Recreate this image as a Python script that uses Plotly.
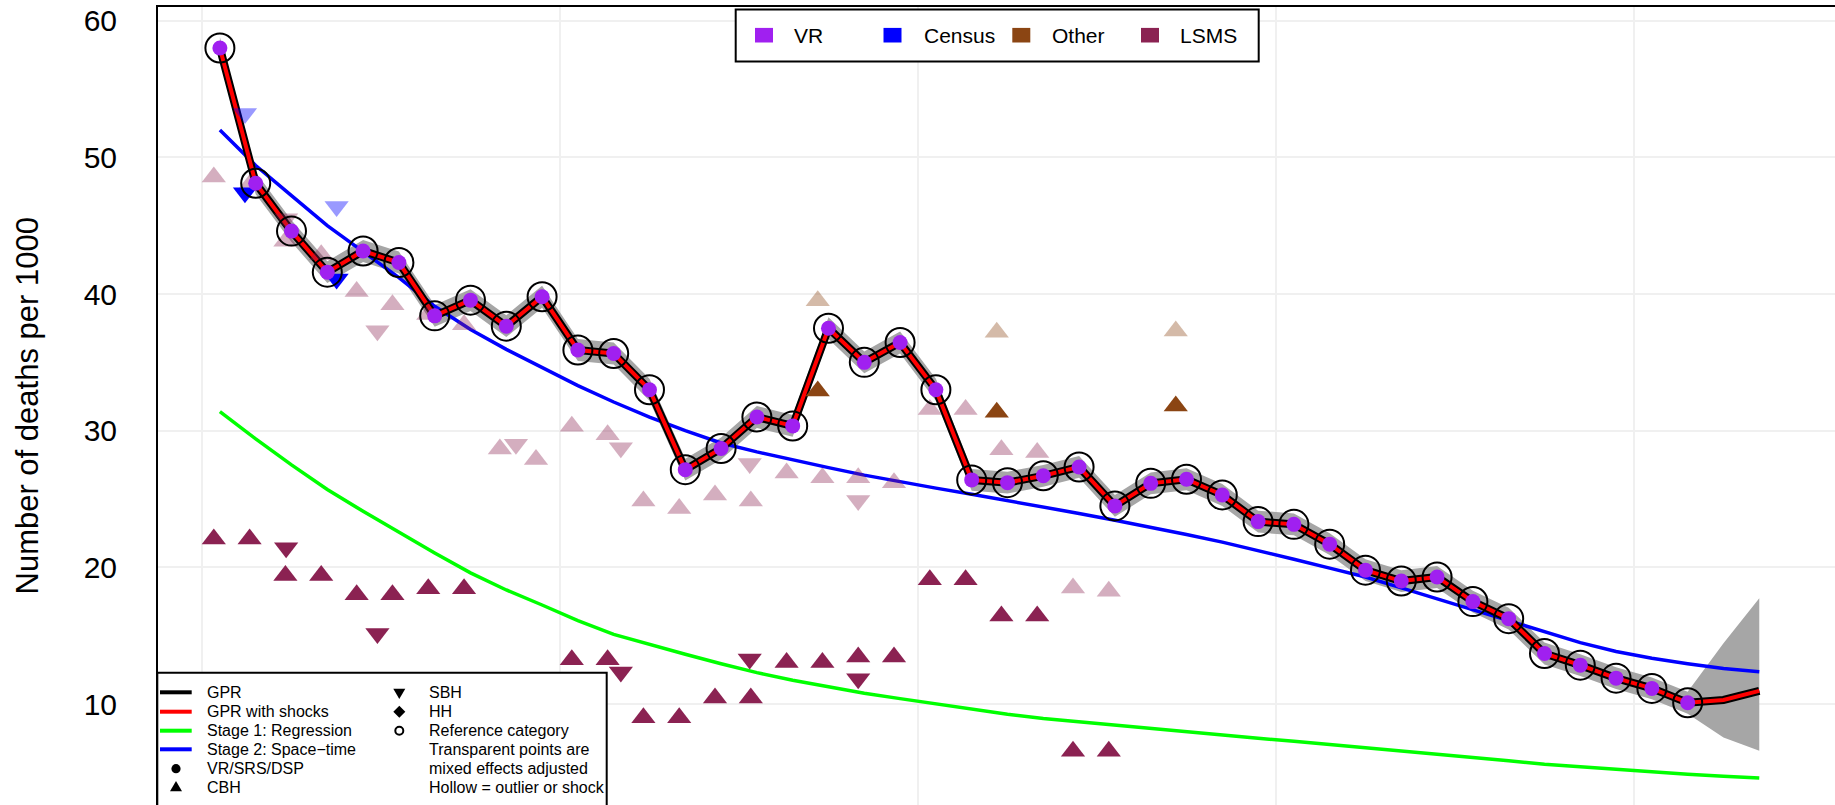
import plotly.graph_objects as go

# ---------------- data ----------------
years_vr = [y + 0.5 for y in range(1970, 2012)]
vr_values = [58.0, 48.1, 44.6, 41.6, 43.15, 42.3, 38.4, 39.55, 37.65, 39.8,
             35.9, 35.65, 33.0, 27.15, 28.7, 31.0, 30.35, 37.5, 35.0, 36.45,
             33.0, 26.4, 26.2, 26.7, 27.35, 24.5, 26.15, 26.45, 25.3, 23.35,
             23.15, 21.7, 19.8, 19.0, 19.3, 17.5, 16.25, 13.7, 12.85, 11.9,
             11.15, 10.1]

years_est = [y + 0.5 for y in range(1970, 2014)]
gpr_values = [58.0, 48.1, 44.6, 41.6, 43.15, 42.3, 38.4, 39.55, 37.65, 39.8,
              35.9, 35.65, 33.0, 27.15, 28.7, 31.0, 30.35, 37.5, 35.0, 36.45,
              33.0, 26.4, 26.2, 26.7, 27.35, 24.5, 26.15, 26.45, 25.3, 23.35,
              23.15, 21.7, 19.8, 19.0, 19.3, 17.5, 16.25, 13.7, 12.85, 11.9,
              11.15, 10.1, 10.3, 10.97]
gpr_lower = [57.2, 47.3, 43.8, 40.8, 42.35, 41.5, 37.6, 38.75, 36.85, 39.0,
             35.1, 34.85, 32.2, 26.35, 27.9, 30.2, 29.55, 36.7, 34.2, 35.65,
             32.2, 25.6, 25.4, 25.9, 26.55, 23.7, 25.35, 25.65, 24.5, 22.55,
             22.35, 20.9, 19.0, 18.2, 18.5, 16.7, 15.45, 12.9, 12.05, 11.1,
             10.35, 9.3, 7.56, 6.58]
gpr_upper = [58.8, 48.9, 45.4, 42.4, 43.95, 43.1, 39.2, 40.35, 38.45, 40.6,
             36.7, 36.45, 33.8, 27.95, 29.5, 31.8, 31.15, 38.3, 35.8, 37.25,
             33.8, 27.2, 27.0, 27.5, 28.15, 25.3, 26.95, 27.25, 26.1, 24.15,
             23.95, 22.5, 20.6, 19.8, 20.1, 18.3, 17.05, 14.5, 13.65, 12.7,
             11.95, 10.9, 14.45, 17.74]
stage1_values = [31.4, 29.4, 27.5, 25.7, 24.1, 22.55, 21.05, 19.6, 18.35, 17.25,
                 16.1, 15.1, 14.35, 13.65, 12.95, 12.3, 11.75, 11.25, 10.8, 10.4,
                 10.0, 9.6, 9.25, 8.95, 8.7, 8.47, 8.22, 7.96, 7.72, 7.5,
                 7.28, 7.05, 6.8, 6.58, 6.35, 6.12, 5.85, 5.6, 5.4, 5.2,
                 5.02, 4.86, 4.72, 4.6]
stage2_values = [52.0, 49.4, 47.2, 45.0, 43.1, 41.2, 39.1, 37.4, 35.95, 34.6,
                 33.3, 32.1, 31.0, 30.0, 29.1, 28.45, 27.85, 27.3, 26.75, 26.25,
                 25.8, 25.35, 24.9, 24.45, 23.95, 23.45, 22.95, 22.4, 21.85, 21.25,
                 20.6, 19.95, 19.3, 18.5, 17.7, 16.9, 16.1, 15.3, 14.5, 13.85,
                 13.35, 12.95, 12.6, 12.37]

# LSMS, complete birth history (solid, up triangles)
lsms_cbh_years = [1970.33, 1971.33, 1972.33, 1973.33, 1974.32, 1975.32, 1976.32, 1977.32,
                  1980.33, 1981.33, 1982.33, 1983.33, 1984.33, 1985.33, 1986.33, 1987.33,
                  1988.33, 1989.33, 1990.33, 1991.33, 1992.33, 1993.33, 1994.33, 1995.33]
lsms_cbh_values = [22.08, 22.08, 19.4, 19.4, 18.0, 18.0, 18.43, 18.43,
                   13.24, 13.24, 9.0, 9.0, 10.45, 10.45, 13.05, 13.05,
                   13.45, 13.45, 19.1, 19.1, 16.45, 16.45, 6.56, 6.56]
# LSMS, complete birth history, mixed effects adjusted (transparent)
lsms_cbh_adj_years = [1970.33, 1971.33, 1972.33, 1973.33, 1974.32, 1975.32, 1976.32, 1977.32,
                      1978.32, 1979.33, 1980.33, 1981.33, 1982.33, 1983.33, 1984.33, 1985.33,
                      1986.33, 1987.33, 1988.33, 1989.33, 1990.33, 1991.33, 1992.33, 1993.33,
                      1994.33, 1995.33]
lsms_cbh_adj_values = [48.56, 48.0, 43.86, 42.88, 40.18, 39.22, 38.5, 37.75,
                       28.67, 27.89, 30.33, 29.7, 24.85, 24.3, 25.3, 24.85,
                       26.9, 26.55, 26.55, 26.2, 31.55, 31.55, 28.6, 28.4,
                       18.5, 18.25]
# LSMS, summary birth history (solid, down triangles)
lsms_sbh_years = [1972.35, 1974.9, 1981.7, 1985.3, 1988.33]
lsms_sbh_values = [21.44, 15.17, 12.35, 13.3, 11.85]
lsms_sbh_adj_years = [1972.35, 1974.9, 1978.77, 1981.7, 1985.3, 1988.33]
lsms_sbh_adj_values = [45.5, 37.32, 29.0, 28.75, 27.6, 24.9]
lsms_sbh_out_years = [1990.46]
lsms_sbh_out_values = [20.1]

# Census, summary birth history
census_sbh_years = [1971.2, 1973.76]
census_sbh_values = [47.4, 41.1]
census_sbh_adj_years = [1971.2, 1973.76]
census_sbh_adj_values = [53.2, 46.4]
census_sbh_out_years = [1975.55]
census_sbh_out_values = [49.66]

# Other, complete birth history
other_cbh_years = [1987.2, 1992.2, 1997.2]
other_cbh_values = [32.9, 31.35, 31.8]
other_cbh_adj_years = [1987.2, 1992.2, 1997.2]
other_cbh_adj_values = [39.5, 37.2, 37.3]

y_ticks = [10, 20, 30, 40, 50, 60]
x_grid = [1970, 1980, 1990, 2000, 2010]
y_title = "Number of deaths per 1000"
source_legend = [("VR", "#A020F0"), ("Census", "#0000FF"), ("Other", "#8B4513"), ("LSMS", "#8B2252")]
line_legend = [("GPR", "#000000"), ("GPR with shocks", "#FF0000"),
               ("Stage 1: Regression", "#00FF00"), ("Stage 2: Space\u2212time", "#0000FF")]
type_legend_col1 = ["VR/SRS/DSP", "CBH"]
type_legend_col2 = ["SBH", "HH", "Reference category", "Transparent points are",
                    "mixed effects adjusted", "Hollow = outlier or shock"]

# ---------------- styling ----------------
VR_C = "#A020F0"
CEN_C = "#0000FF"
OTH_C = "#8B4513"
LSMS_C = "#8B2252"
LSMS_T = "rgba(139,34,82,0.37)"
CEN_T = "rgba(0,0,255,0.40)"
OTH_T = "rgba(139,69,19,0.37)"
FONT = "Liberation Sans, Arial, Helvetica, sans-serif"
TRI = 21

W, H = 1835, 805
ML, MR, MT, MB = 158, 0, 7, 0
X0, X1 = 1968.771, 2015.615
Y0, Y1 = 2.619, 60.995


def px_x(px):
    return (px - ML) / (W - ML - MR)


def px_y(py):
    return 1 - (py - MT) / (H - MT - MB)


fig = go.Figure()

# uncertainty band
fig.add_trace(go.Scatter(x=years_est + years_est[::-1], y=gpr_upper + gpr_lower[::-1],
                         fill="toself", fillcolor="rgb(166,166,166)", line=dict(width=0),
                         mode="lines", hoverinfo="skip"))
fig.add_trace(go.Scatter(x=years_est, y=stage1_values, mode="lines",
                         line=dict(color="#00FF00", width=3.5)))
fig.add_trace(go.Scatter(x=years_est, y=stage2_values, mode="lines",
                         line=dict(color="#0000FF", width=3.5)))
fig.add_trace(go.Scatter(x=years_est, y=gpr_values, mode="lines",
                         line=dict(color="#000000", width=8)))
fig.add_trace(go.Scatter(x=years_est, y=gpr_values, mode="lines",
                         line=dict(color="#FF0000", width=4)))


def pts(x, y, symbol, color, open_=False):
    if open_:
        m = dict(symbol=symbol, size=TRI, color="rgba(0,0,0,0)", line=dict(color=color, width=2))
    else:
        m = dict(symbol=symbol, size=TRI, color=color, line=dict(width=0))
    fig.add_trace(go.Scatter(x=x, y=y, mode="markers", marker=m))


# transparent (adjusted) points
pts(lsms_cbh_adj_years, lsms_cbh_adj_values, "triangle-up", LSMS_T)
pts(lsms_sbh_adj_years, lsms_sbh_adj_values, "triangle-down", LSMS_T)
pts(census_sbh_adj_years, census_sbh_adj_values, "triangle-down", CEN_T)
pts(other_cbh_adj_years, other_cbh_adj_values, "triangle-up", OTH_T)
# solid points
pts(lsms_cbh_years, lsms_cbh_values, "triangle-up", LSMS_C)
pts(lsms_sbh_years, lsms_sbh_values, "triangle-down", LSMS_C)
pts(census_sbh_years, census_sbh_values, "triangle-down", CEN_C)
pts(other_cbh_years, other_cbh_values, "triangle-up", OTH_C)
# hollow outliers
pts(lsms_sbh_out_years, lsms_sbh_out_values, "triangle-down-open", LSMS_C, open_=True)
pts(census_sbh_out_years, census_sbh_out_values, "triangle-down-open", CEN_C, open_=True)

# VR points with reference-category circles
fig.add_trace(go.Scatter(x=years_vr, y=vr_values, mode="markers",
                         marker=dict(symbol="circle", size=15, color=VR_C, line=dict(width=0))))
fig.add_trace(go.Scatter(x=years_vr, y=vr_values, mode="markers",
                         marker=dict(symbol="circle-open", size=29, color="#000000",
                                     line=dict(color="#000000", width=2))))

shapes = []
annotations = []

# ---- top legend (source types) ----
shapes.append(dict(type="rect", xref="paper", yref="paper", layer="above",
                   x0=px_x(735.7), x1=px_x(1258.7), y0=px_y(61.5), y1=px_y(9.5),
                   fillcolor="white", line=dict(color="black", width=2)))
sq_centers = [764, 892.5, 1021.3, 1150]
txt_left = [791.7, 921.7, 1050, 1178.3]
for (lab, col), cx, tx in zip(source_legend, sq_centers, txt_left):
    shapes.append(dict(type="rect", xref="paper", yref="paper", layer="above",
                       xsizemode="pixel", ysizemode="pixel",
                       xanchor=px_x(cx), yanchor=px_y(35.2),
                       x0=-9, x1=9, y0=-7.3, y1=7.3, fillcolor=col, line=dict(width=0)))
    annotations.append(dict(text=lab, x=px_x(tx), y=px_y(35.7), xref="paper", yref="paper",
                            xanchor="left", yanchor="middle", showarrow=False,
                            font=dict(family=FONT, size=21, color="black")))

# ---- bottom-left legend ----
shapes.append(dict(type="rect", xref="paper", yref="paper", layer="above",
                   x0=px_x(157.3), x1=px_x(606.7), y0=px_y(830), y1=px_y(672.7),
                   fillcolor="white", line=dict(color="black", width=2)))
rows = [692.3, 711.7, 730.7, 749.3, 768.7, 787.7]
for (lab, col), ry in zip(line_legend, rows[:4]):
    shapes.append(dict(type="line", xref="paper", yref="paper", layer="above",
                       x0=px_x(160), x1=px_x(191.7), y0=px_y(ry), y1=px_y(ry),
                       line=dict(color=col, width=4)))
    annotations.append(dict(text=lab, x=px_x(205), y=px_y(ry), xref="paper", yref="paper",
                            xanchor="left", yanchor="middle", showarrow=False,
                            font=dict(family=FONT, size=16, color="black")))
for lab, ry in zip(type_legend_col1, rows[4:]):
    annotations.append(dict(text=lab, x=px_x(205), y=px_y(ry), xref="paper", yref="paper",
                            xanchor="left", yanchor="middle", showarrow=False,
                            font=dict(family=FONT, size=16, color="black")))
for lab, ry in zip(type_legend_col2, rows):
    annotations.append(dict(text=lab, x=px_x(426.7), y=px_y(ry), xref="paper", yref="paper",
                            xanchor="left", yanchor="middle", showarrow=False,
                            font=dict(family=FONT, size=16, color="black")))


def sym_shape(path, cx, cy, fill="black", line=None):
    d = dict(type="path", xref="paper", yref="paper", layer="above",
             xsizemode="pixel", ysizemode="pixel", xanchor=px_x(cx), yanchor=px_y(cy),
             path=path, fillcolor=fill, line=line or dict(width=0))
    return d


# filled dot (VR/SRS/DSP)
shapes.append(dict(type="circle", xref="paper", yref="paper", layer="above",
                   xsizemode="pixel", ysizemode="pixel", xanchor=px_x(176), yanchor=px_y(768.7),
                   x0=-4.6, x1=4.6, y0=-4.6, y1=4.6, fillcolor="black", line=dict(width=0)))
# up triangle (CBH)
shapes.append(sym_shape("M-6,-3.5 L6,-3.5 L0,6.8 Z", 176, 787.7))
# down triangle (SBH)
shapes.append(sym_shape("M-6,3.5 L6,3.5 L0,-6.8 Z", 399.3, 692.3))
# diamond (HH)
shapes.append(sym_shape("M0,6 L6,0 L0,-6 L-6,0 Z", 399.3, 711.7))
# open circle (reference category)
shapes.append(dict(type="circle", xref="paper", yref="paper", layer="above",
                   xsizemode="pixel", ysizemode="pixel", xanchor=px_x(399.3), yanchor=px_y(730.7),
                   x0=-4, x1=4, y0=-4, y1=4, fillcolor="white",
                   line=dict(color="black", width=2)))

# y-axis title
annotations.append(dict(text=y_title, x=px_x(27), y=px_y(406.5), xref="paper", yref="paper",
                        xanchor="center", yanchor="middle", textangle=-90, showarrow=False,
                        font=dict(family=FONT, size=31, color="black")))

fig.update_layout(
    width=W, height=H,
    margin=dict(l=ML, r=MR, t=MT, b=MB, pad=0),
    paper_bgcolor="white", plot_bgcolor="white",
    showlegend=False,
    shapes=shapes, annotations=annotations,
    xaxis=dict(range=[X0, X1], tickvals=x_grid, showticklabels=False, ticks="",
               showgrid=True, gridcolor="rgb(240,240,240)", gridwidth=2, zeroline=False,
               showline=True, linecolor="black", linewidth=2, side="top", mirror=False),
    yaxis=dict(range=[Y0, Y1], tickvals=y_ticks, ticks="", ticklabelstandoff=33,
               tickfont=dict(family=FONT, size=30, color="black"),
               showgrid=True, gridcolor="rgb(240,240,240)", gridwidth=2, zeroline=False,
               showline=True, linecolor="black", linewidth=2),
)

fig.write_html("out.html",
               config={"displayModeBar": False},
               post_script="document.body.style.margin='0px';"
                           "document.body.style.overflow='hidden';")
